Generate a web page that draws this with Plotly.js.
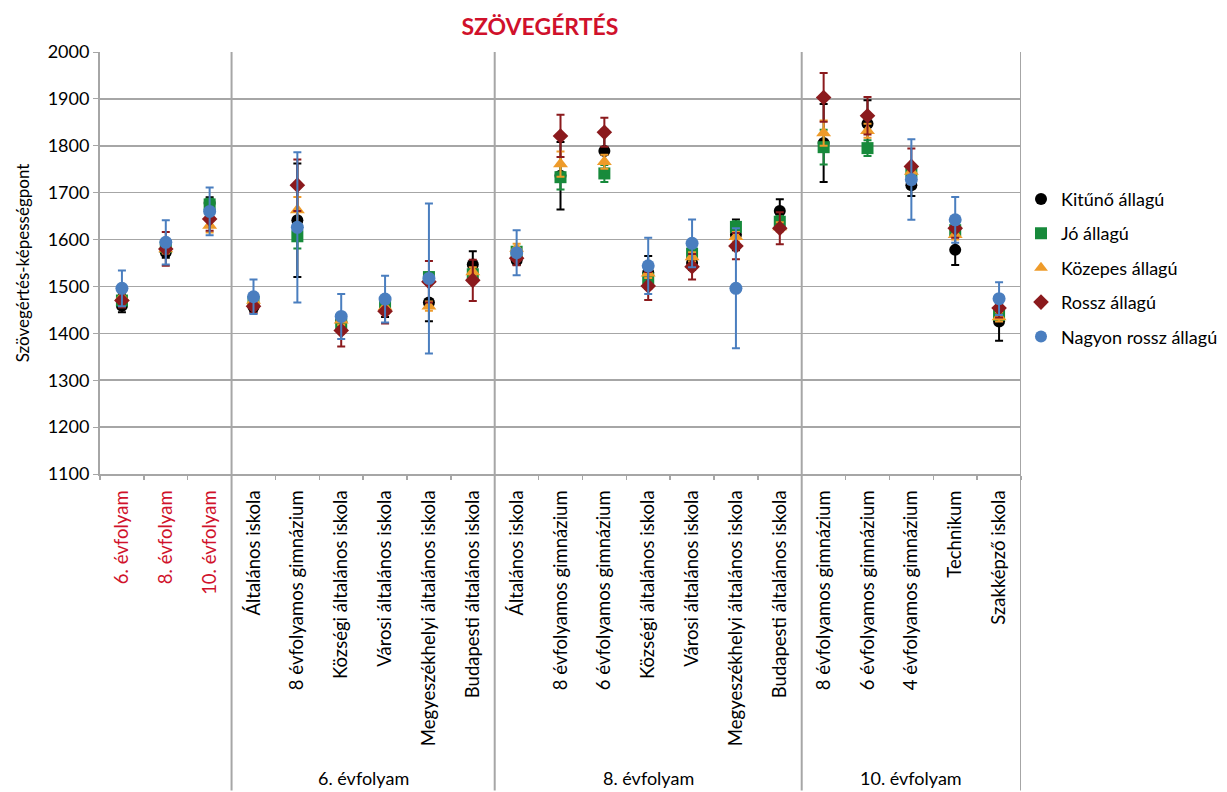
<!DOCTYPE html>
<html>
<head>
<meta charset="utf-8">
<script src="https://cdn.plot.ly/plotly-3.0.1.min.js"></script>
<style>html,body{margin:0;padding:0;background:#fff;}#chart{width:1227px;height:792px;}</style>
</head>
<body>
<div id="chart"></div>
<script>
const categories = ['6. évfolyam','8. évfolyam','10. évfolyam',
  'Általános iskola','8 évfolyamos gimnázium','Községi általános iskola','Városi általános iskola','Megyeszékhelyi általános iskola','Budapesti általános iskola',
  'Általános iskola','8 évfolyamos gimnázium','6 évfolyamos gimnázium','Községi általános iskola','Városi általános iskola','Megyeszékhelyi általános iskola','Budapesti általános iskola',
  '8 évfolyamos gimnázium','6 évfolyamos gimnázium','4 évfolyamos gimnázium','Technikum','Szakképző iskola'];
const highlighted = [true,true,true,false,false,false,false,false,false,false,false,false,false,false,false,false,false,false,false,false,false];
const groups = ['6. évfolyam','8. évfolyam','10. évfolyam'];
const groupStart = [3,9,16];
const groupEnd = [8,15,20];

const kituno = [1459,1573,1678,1456,1641,1425,1450,1466,1547,1556,1736,1789,1530,1550,1610,1661,1806,1847,1716,1578,1425];
const kitunoErr = [14,12,12,10,121,10,15,40,28,10,72,45,35,15,33,25,83,50,23,32,41];
const jo = [1470,1584,1675,1467,1607,1419,1460,1520,1526,1574,1733,1741,1517,1570,1627,1638,1797,1795,1745,1620,1439];
const joErr = [12,12,12,10,26,12,10,10,10,10,26,18,12,12,12,12,37,17,12,12,12];
const kozepes = [1477,1580,1630,1470,1663,1428,1456,1458,1531,1581,1761,1766,1528,1563,1606,1627,1827,1832,1745,1610,1435];
const kozepesErr = [12,10,15,10,28,10,10,10,10,10,27,15,10,10,10,10,27,15,12,10,10];
const rossz = [1470,1580,1644,1458,1716,1406,1447,1510,1513,1560,1821,1829,1501,1542,1586,1624,1903,1864,1756,1624,1454];
const rosszErr = [15,36,25,15,55,34,26,44,44,15,45,31,30,27,28,34,52,40,38,20,20];
const nagyon = [1496,1594,1660,1478,1626,1436,1473,1517,null,1572,null,null,1544,1592,1496,null,null,null,1728,1642,1474];
const nagyonErr = [38,47,51,37,160,48,50,160,null,48,null,null,60,51,128,null,null,null,86,49,35];

const seriesNames = ['Kitűnő állagú','Jó állagú','Közepes állagú','Rossz állagú','Nagyon rossz állagú'];
const seriesVals = [kituno, jo, kozepes, rossz, nagyon];
const seriesErr = [kitunoErr, joErr, kozepesErr, rosszErr, nagyonErr];
const colors = ['#000000','#178A3B','#EE9B2A','#8B1A1D','#4A7EBF'];
const symbols = ['circle','square','triangle-up','diamond','circle'];
const sizes = [12,12,13,12,13];

const xIdx = categories.map((c,i)=>i);
const FONT = 'Lato, "Open Sans", "DejaVu Sans", sans-serif';
const RED = '#D0112B';
const GRID = '#A6A6A6';

const traces = seriesNames.map((n,k)=>({
  type:'scatter', mode:'markers', name:n, legendgroup:'g'+k,
  x:xIdx, y:seriesVals[k],
  marker:{color:colors[k], symbol:symbols[k], size:sizes[k], line:{width:0}},
  error_y:{type:'data', array:seriesErr[k], visible:true, color:colors[k], thickness:2, width:4},
  hoverinfo:'x+y'
}));

const ticktext = categories.map((c,i)=> highlighted[i] ? '<span style="color:'+RED+'">'+c+'</span>' : c);

const shapes = [];
groupStart.forEach(s=>{
  shapes.push({type:'line', xref:'x', yref:'paper', x0:s-0.5, x1:s-0.5, y0:-0.75, y1:1, line:{color:GRID, width:2}});
});
shapes.push({type:'line', xref:'x', yref:'paper', x0:categories.length-0.5, x1:categories.length-0.5, y0:-0.75, y1:1, line:{color:GRID, width:2}});

const annotations = groups.map((g,i)=>({
  text:g, xref:'x', yref:'paper', x:(groupStart[i]+groupEnd[i])/2, y:-0.72,
  showarrow:false, xanchor:'center', yanchor:'middle', font:{size:18, color:'#000', family:FONT}
}));

const layout = {
  width:1227, height:792,
  margin:{l:100, r:206, t:52, b:318, autoexpand:false},
  paper_bgcolor:'#fff', plot_bgcolor:'#fff',
  font:{family:FONT, size:18, color:'#000'},
  title:{text:'<b>SZÖVEGÉRTÉS</b>', font:{size:23, color:RED, family:FONT}, x:0.44, xanchor:'center', y:0.966, yanchor:'middle'},
  showlegend:true,
  legend:{x:1.0, xanchor:'left', y:0.695, yanchor:'top', font:{size:18, family:FONT}, tracegroupgap:8, itemsizing:'constant', bgcolor:'rgba(0,0,0,0)'},
  xaxis:{
    range:[-0.5, categories.length-0.5], tickmode:'array', tickvals:xIdx, ticktext:ticktext,
    tickangle:-90, ticks:'', showgrid:false, zeroline:false, ticklabelstandoff:7, automargin:false,
    showline:true, linecolor:GRID, linewidth:2, tickfont:{size:18.5, family:FONT},
    minor:{tickmode:'linear', tick0:0.5, dtick:1, ticks:'outside', ticklen:4, tickcolor:GRID, tickwidth:1.5, showgrid:false}
  },
  yaxis:{
    range:[1100,2000], dtick:100, tick0:1100, showgrid:true, gridcolor:GRID, gridwidth:1.5, automargin:false,
    showline:true, linecolor:GRID, linewidth:2, ticks:'outside', ticklen:5, tickcolor:GRID,
    zeroline:false, tickfont:{size:18, family:FONT},
    title:{text:'Szövegértés-képességpont', font:{size:17, family:FONT}, standoff:14}
  },
  shapes:shapes, annotations:annotations
};

Plotly.newPlot('chart', traces, layout, {displayModeBar:false, staticPlot:true});
</script>
</body>
</html>
